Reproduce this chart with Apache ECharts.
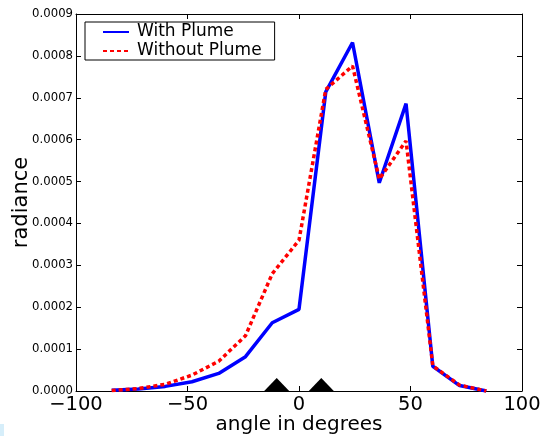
<!DOCTYPE html>
<html>
<head>
<meta charset="utf-8">
<script src="https://cdn.jsdelivr.net/npm/echarts@6/dist/echarts.min.js"></script>
<style>html,body{margin:0;padding:0;background:#fff;}#c{width:542px;height:436px;}</style>
</head>
<body>
<div id="c"></div>
<script>
const angles = [-84, -72, -60, -48, -36, -24, -12, 0, 12, 24, 36, 48, 60, 72, 84];
const withPlume = [0.000002, 0.000005, 0.000011, 0.000022, 0.000042, 0.000082, 0.000163, 0.000195, 0.000714, 0.000832, 0.000497, 0.000686, 0.000059, 0.000013, 0.0];
const withoutPlume = [0.000001, 0.000006, 0.000016, 0.000038, 0.000071, 0.000132, 0.000280, 0.000360, 0.000720, 0.000776, 0.000506, 0.000597, 0.000060, 0.000014, 0.0];
const markerAngles = [-10, 10];
const xTicks = [-100, -50, 0, 50, 100];
const yTicks = [0, 0.0001, 0.0002, 0.0003, 0.0004, 0.0005, 0.0006, 0.0007, 0.0008, 0.0009];

const font = 'DejaVu Sans';
const chart = echarts.init(document.getElementById('c'), null, {renderer: 'canvas'});
const axisLine = {show: true, onZero: false, lineStyle: {color: '#000', width: 1}};
const tickIn = {show: true, inside: true, length: 5, lineStyle: {color: '#000', width: 1}};
chart.setOption({
  backgroundColor: '#fff',
  animation: false,
  grid: {left: 76, right: 20, top: 14, bottom: 45, containLabel: false, outerBoundsMode: 'none'},
  legend: {
    orient: 'vertical', left: 85, top: 22,
    backgroundColor: '#fff', borderColor: '#000', borderWidth: 1,
    padding: [1, 13, 0, 17], itemGap: 1, itemWidth: 26, itemHeight: 14,
    textStyle: {fontFamily: font, fontSize: 17, color: '#000', lineHeight: 18, padding: [0, 0, 0, 3]},
    data: [
      {name: 'With Plume', itemStyle: {opacity: 0}},
      {name: 'Without Plume', itemStyle: {opacity: 0}}
    ]
  },
  xAxis: [{
    type: 'value', min: xTicks[0], max: xTicks[xTicks.length - 1], interval: 50,
    name: 'angle in degrees', nameLocation: 'middle', nameGap: 24, nameMoveOverlap: false,
    nameTextStyle: {fontFamily: font, fontSize: 20, color: '#000'},
    axisLine: axisLine, axisTick: tickIn, splitLine: {show: false},
    axisLabel: {fontFamily: font, fontSize: 19.5, color: '#000', margin: 4,
      formatter: v => String(v).replace('-', '\u2212')}
  }, {
    type: 'value', position: 'top', min: -100, max: 100, interval: 50,
    axisLine: axisLine, axisTick: tickIn, axisLabel: {show: false}, splitLine: {show: false}
  }],
  yAxis: [{
    type: 'value', min: 0, max: yTicks[yTicks.length - 1], interval: 0.0001,
    name: 'radiance', nameLocation: 'middle', nameGap: 44, nameMoveOverlap: false,
    nameTextStyle: {fontFamily: font, fontSize: 21, color: '#000'},
    axisLine: axisLine, axisTick: tickIn, splitLine: {show: false},
    axisLabel: {fontFamily: font, fontSize: 11.7, color: '#000', margin: 3,
      formatter: v => v.toFixed(4)}
  }, {
    type: 'value', position: 'right', min: 0, max: 0.0009, interval: 0.0001,
    axisLine: axisLine, axisTick: tickIn, axisLabel: {show: false}, splitLine: {show: false}
  }],
  series: [{
    name: 'With Plume', type: 'line', symbol: 'none',
    data: angles.map((a, i) => [a, withPlume[i]]),
    lineStyle: {color: '#0000ff', width: 3.5},
    itemStyle: {color: '#0000ff'}, z: 3
  }, {
    name: 'Without Plume', type: 'line', symbol: 'none',
    data: angles.map((a, i) => [a, withoutPlume[i]]),
    lineStyle: {color: '#ff0000', width: 3.5, type: [4, 3]},
    itemStyle: {color: '#ff0000'}, z: 4
  }, {
    name: 'markers', type: 'scatter', symbol: 'triangle', symbolSize: [25, 13], symbolOffset: [0, -6.5],
    data: markerAngles.map(a => [a, 0]),
    itemStyle: {color: '#000', opacity: 1}, z: 2
  }],
  graphic: [{type: 'rect', left: 0, top: 424, shape: {width: 4, height: 12}, style: {fill: '#d6eefa'}, silent: true}]
});
</script>
</body>
</html>
